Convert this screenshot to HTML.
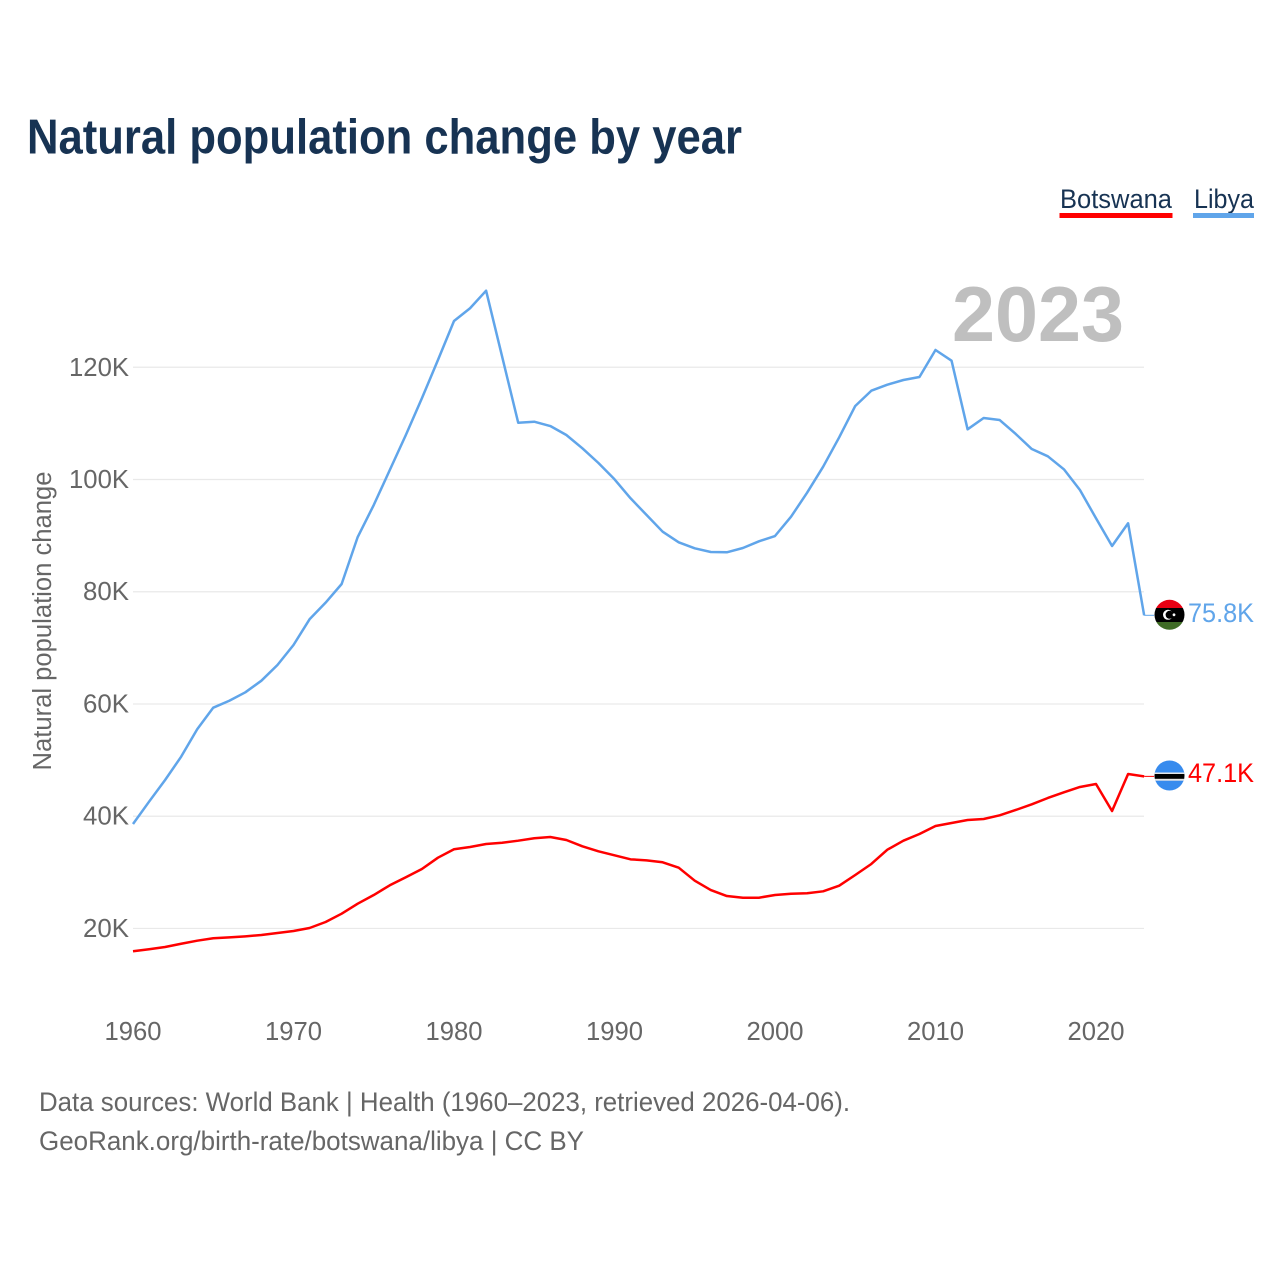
<!DOCTYPE html>
<html lang="en">
<head>
<meta charset="utf-8">
<title>Natural population change by year</title>
<style>
html,body{margin:0;padding:0;background:#fff;width:1280px;height:1280px;overflow:hidden}
svg{display:block}
text{font-family:"Liberation Sans",sans-serif}
</style>
</head>
<body>
<svg id="chart" xmlns="http://www.w3.org/2000/svg" width="1280" height="1280" viewBox="0 0 1280 1280">
  <rect x="0" y="0" width="1280" height="1280" fill="#fff"/>
  <text x="27" y="153.5" font-size="49" font-weight="700" fill="#173353" textLength="715" lengthAdjust="spacingAndGlyphs">Natural population change by year</text>

  <g>
    <text x="1060" y="208" font-size="27" fill="#173353" textLength="112" lengthAdjust="spacingAndGlyphs">Botswana</text>
    <rect x="1059.5" y="213" width="113" height="5" fill="#ff0000"/>
  </g>
  <g>
    <text x="1194" y="208" font-size="27" fill="#173353" textLength="60" lengthAdjust="spacingAndGlyphs">Libya</text>
    <rect x="1193" y="213" width="61" height="5" fill="#60a5ea"/>
  </g>

  <g id="grid"></g>
  <g id="yticks"></g>
  <g id="xticks"></g>

  <text transform="translate(51 621) rotate(-90)" text-anchor="middle" font-size="25.5" fill="#666666" textLength="299" lengthAdjust="spacingAndGlyphs">Natural population change</text>

  <text x="952" y="341" font-size="78" font-weight="700" fill="#bfbfbf" textLength="172" lengthAdjust="spacingAndGlyphs">2023</text>

  <g id="series"></g>

  <g>
    <clipPath id="clipLibya"><circle cx="1169.5" cy="614.8" r="15"/></clipPath>
    <g clip-path="url(#clipLibya)">
      <rect x="1154" y="599" width="31" height="9" fill="#e70013"/>
      <rect x="1154" y="608" width="31" height="14" fill="#000"/>
      <rect x="1154" y="622" width="31" height="9" fill="#3f6b25"/>
      <circle cx="1168" cy="614.8" r="5" fill="#fff"/>
      <circle cx="1169.6" cy="614.8" r="4" fill="#000"/>
      <circle cx="1174" cy="614.8" r="1.4" fill="#fff"/>
    </g>
  </g>
  <g>
    <clipPath id="clipBotswana"><circle cx="1169.5" cy="775.5" r="15"/></clipPath>
    <g clip-path="url(#clipBotswana)">
      <rect x="1154" y="760" width="31" height="31" fill="#378bee"/>
      <rect x="1154" y="772.5" width="31" height="8.2" fill="#e6e6e6"/>
      <rect x="1154" y="774" width="31" height="4.8" fill="#000"/>
    </g>
  </g>

  <text x="1188" y="622" font-size="26.5" fill="#60a5ea" textLength="66" lengthAdjust="spacingAndGlyphs">75.8K</text>
  <text x="1188" y="782" font-size="26.5" fill="#ff0000" textLength="66" lengthAdjust="spacingAndGlyphs">47.1K</text>

  <text x="39" y="1111" font-size="26.5" fill="#666666" textLength="811" lengthAdjust="spacingAndGlyphs">Data sources: World Bank | Health (1960–2023, retrieved 2026-04-06).</text>
  <text x="39" y="1150" font-size="26.5" fill="#666666" textLength="545" lengthAdjust="spacingAndGlyphs">GeoRank.org/birth-rate/botswana/libya | CC BY</text>
</svg>
<script>
const startYear = 1960;
const libyaValues = [38.61,42.59,46.45,50.61,55.49,59.34,60.58,62.08,64.15,66.95,70.51,75.09,78.05,81.38,89.75,95.45,101.69,107.93,114.47,121.29,128.24,130.51,133.64,121.88,110.12,110.30,109.53,107.93,105.56,102.94,100.04,96.65,93.67,90.70,88.81,87.74,87.08,87.03,87.79,88.99,89.93,93.37,97.65,102.28,107.52,113.10,115.82,116.89,117.73,118.27,123.08,121.17,108.94,110.96,110.60,108.11,105.43,104.13,101.82,98.13,93.09,88.15,92.20,75.8];
const botswanaValues = [15.93,16.29,16.70,17.28,17.82,18.25,18.42,18.60,18.83,19.19,19.55,20.08,21.15,22.63,24.41,25.96,27.69,29.12,30.59,32.61,34.11,34.52,35.05,35.28,35.64,36.07,36.30,35.76,34.64,33.75,33.04,32.32,32.14,31.79,30.83,28.51,26.85,25.78,25.48,25.48,25.96,26.19,26.27,26.62,27.62,29.53,31.49,34.03,35.64,36.83,38.26,38.79,39.33,39.51,40.16,41.11,42.12,43.25,44.26,45.21,45.74,40.93,47.52,47.1];
const yTickValues = [20,40,60,80,100,120];
const yTickLabels = ['20K','40K','60K','80K','100K','120K'];
const xTickYears = [1960,1970,1980,1990,2000,2010,2020];
const xTickLabels = ['1960','1970','1980','1990','2000','2010','2020'];

const NS = 'http://www.w3.org/2000/svg';
function xScale(year){ return 133 + (year - 1960) * 16.05; }
function yScale(k){ return 1040.7 - k * 5.612; }

const gridG = document.getElementById('grid');
const yG = document.getElementById('yticks');
const xG = document.getElementById('xticks');
const seriesG = document.getElementById('series');

yTickValues.forEach(function(v, i){
  const line = document.createElementNS(NS, 'line');
  
  
  line.setAttribute('x1', 133);
  line.setAttribute('x2', 1144);
  line.setAttribute('y1', yScale(v));
  line.setAttribute('y2', yScale(v));
  line.setAttribute('stroke', '#e9e9e9');
  line.setAttribute('stroke-width', '1.2');
  gridG.appendChild(line);

  const t = document.createElementNS(NS, 'text');
  
  
  t.setAttribute('x', 129);
  t.setAttribute('y', yScale(v) + 8.5);
  t.setAttribute('text-anchor', 'end');
  t.setAttribute('font-size', '25.5');
  t.setAttribute('fill', '#666666');
  t.setAttribute('textLength', yTickLabels[i].length === 4 ? 60 : 46);
  t.setAttribute('lengthAdjust', 'spacingAndGlyphs');
  t.textContent = yTickLabels[i];
  yG.appendChild(t);
});

xTickYears.forEach(function(y, i){
  const t = document.createElementNS(NS, 'text');
  
  
  t.setAttribute('x', xScale(y));
  t.setAttribute('y', 1040);
  t.setAttribute('text-anchor', 'middle');
  t.setAttribute('font-size', '25.5');
  t.setAttribute('fill', '#666666');
  t.setAttribute('textLength', 57);
  t.setAttribute('lengthAdjust', 'spacingAndGlyphs');
  t.textContent = xTickLabels[i];
  xG.appendChild(t);
});

function drawSeries(values, color, name){
  const pts = values.map(function(v, i){
    return xScale(startYear + i).toFixed(2) + ',' + yScale(v).toFixed(2);
  }).join(' ');
  const pl = document.createElementNS(NS, 'polyline');
  
  
  pl.setAttribute('points', pts);
  pl.setAttribute('fill', 'none');
  pl.setAttribute('stroke', color);
  pl.setAttribute('stroke-width', '2.5');
  pl.setAttribute('stroke-linejoin', 'round');
  seriesG.appendChild(pl);

  const last = values[values.length - 1];
  const lastX = xScale(startYear + values.length - 1);
  const tail = document.createElementNS(NS, 'line');
  
  
  tail.setAttribute('x1', lastX);
  tail.setAttribute('x2', lastX + 10);
  tail.setAttribute('y1', yScale(last));
  tail.setAttribute('y2', yScale(last));
  tail.setAttribute('stroke', color);
  tail.setAttribute('stroke-width', '1');
  seriesG.appendChild(tail);
}
drawSeries(libyaValues, '#60a5ea', 'line-libya');
drawSeries(botswanaValues, '#ff0000', 'line-botswana');
</script>
</body>
</html>
